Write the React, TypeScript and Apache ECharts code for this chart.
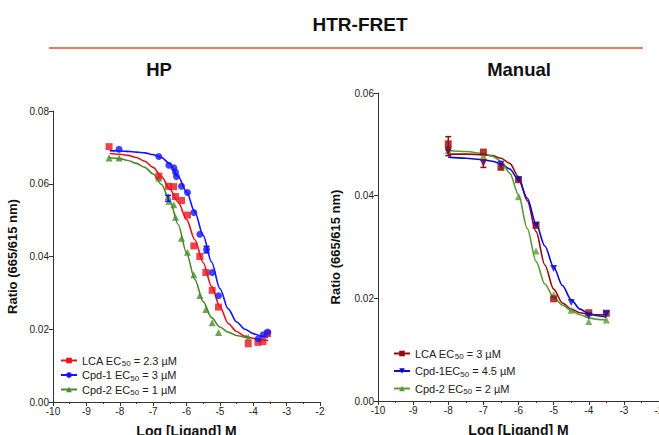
import React, { useEffect, useRef } from 'react';
import * as echarts from 'echarts';

// ---------- HP panel (points) ----------
const lcaHpX = [-8.32, -6.83, -6.54, -6.38, -6.33, -6.15, -5.97, -5.78, -5.6, -5.42, -5.23, -5.04, -4.15, -3.86, -3.71, -3.57];
const lcaHpY = [0.0702, 0.0621, 0.0593, 0.0592, 0.0565, 0.0554, 0.0514, 0.0429, 0.04, 0.0356, 0.0307, 0.0261, 0.016, 0.0164, 0.0166, 0.0188];
const cpd1HpX = [-8.02, -6.83, -6.53, -6.38, -6.33, -6.3, -6.15, -5.97, -5.78, -5.6, -5.4, -5.23, -5.04, -3.85, -3.7, -3.57];
const cpd1HpY = [0.0695, 0.0675, 0.0651, 0.0644, 0.0632, 0.062, 0.0593, 0.0576, 0.0521, 0.0461, 0.0419, 0.0356, 0.0292, 0.0174, 0.0185, 0.0192];
const cpd2HpX = [-8.32, -8.02, -6.83, -6.55, -6.53, -6.38, -6.33, -6.15, -5.97, -5.78, -5.6, -5.42, -5.23, -5.04, -4.15];
const cpd2HpY = [0.0671, 0.0671, 0.0616, 0.0565, 0.0552, 0.0542, 0.0508, 0.045, 0.0412, 0.035, 0.0293, 0.0254, 0.0218, 0.0191, 0.0177];

// ---------- HP panel (fitted curves) ----------
const lcaHpFitX = [-8.3, -8, -7.75, -7.5, -7.25, -7, -6.75, -6.5, -6.25, -6, -5.75, -5.5, -5.25, -5, -4.75, -4.5, -4.25, -4, -3.75, -3.55];
const lcaHpFitY = [0.0683, 0.0681, 0.0678, 0.0672, 0.0662, 0.0645, 0.062, 0.0585, 0.055, 0.0502, 0.0446, 0.0383, 0.0318, 0.0262, 0.0216, 0.0194, 0.0181, 0.0175, 0.0171, 0.0169];
const cpd1HpFitX = [-8.3, -8, -7.75, -7.5, -7.25, -7, -6.75, -6.5, -6.25, -6, -5.75, -5.5, -5.25, -5, -4.75, -4.5, -4.25, -4, -3.75, -3.55];
const cpd1HpFitY = [0.0691, 0.069, 0.0689, 0.0687, 0.0685, 0.068, 0.0672, 0.0655, 0.062, 0.0578, 0.0522, 0.0458, 0.0385, 0.0312, 0.0256, 0.022, 0.02, 0.0188, 0.0181, 0.0178];
const cpd2HpFitX = [-8.35, -8, -7.75, -7.5, -7.25, -7, -6.75, -6.5, -6.25, -6, -5.75, -5.5, -5.25, -5, -4.75, -4.5, -4.25, -4.1];
const cpd2HpFitY = [0.0673, 0.0669, 0.0664, 0.0656, 0.0645, 0.0627, 0.0598, 0.0553, 0.0488, 0.041, 0.0337, 0.0276, 0.0232, 0.0206, 0.0192, 0.0183, 0.0178, 0.0176];

// ---------- Manual panel (points) ----------
const lcaManX = [-8, -7, -6.5, -6, -5.5, -5, -4, -3.5];
const lcaManY = [0.0501, 0.0485, 0.0456, 0.0431, 0.0342, 0.0199, 0.0172, 0.0171];
const cpd1ManX = [-8, -7, -6.5, -6, -5.5, -5, -4.5, -4, -3.5];
const cpd1ManY = [0.0486, 0.0463, 0.0461, 0.0431, 0.0343, 0.0258, 0.0192, 0.0166, 0.017];
const cpd2ManX = [-8, -7, -6.5, -6, -5.5, -5, -4.5, -4, -3.5];
const cpd2ManY = [0.0488, 0.0478, 0.0455, 0.0398, 0.0292, 0.0207, 0.0177, 0.0155, 0.0158];

// ---------- Manual panel (fitted curves) ----------
const lcaManFitX = [-8, -7.5, -7, -6.75, -6.5, -6.25, -6, -5.75, -5.5, -5.25, -5, -4.75, -4.5, -4.25, -4, -3.75, -3.5];
const lcaManFitY = [0.0481, 0.0481, 0.048, 0.0478, 0.0473, 0.0463, 0.0437, 0.039, 0.033, 0.0265, 0.0218, 0.0191, 0.0179, 0.0172, 0.0169, 0.0168, 0.0168];
const cpd1ManFitX = [-8, -7.5, -7, -6.75, -6.5, -6.25, -6, -5.75, -5.5, -5.25, -5, -4.75, -4.5, -4.25, -4, -3.75, -3.5];
const cpd1ManFitY = [0.0475, 0.0473, 0.047, 0.0467, 0.0462, 0.0452, 0.0431, 0.0395, 0.0345, 0.0302, 0.0261, 0.0225, 0.0197, 0.0179, 0.017, 0.0166, 0.0163];
const cpd2ManFitX = [-8, -7.5, -7, -6.75, -6.5, -6.25, -6, -5.75, -5.5, -5.25, -5, -4.75, -4.5, -4.25, -4, -3.75, -3.5];
const cpd2ManFitY = [0.0488, 0.0486, 0.0482, 0.0477, 0.0467, 0.0444, 0.0402, 0.0336, 0.0272, 0.0228, 0.0202, 0.0187, 0.0176, 0.0168, 0.0162, 0.0159, 0.0158];

// ---------- error bars ----------
const errHpX = [-5.4, -6.55];
const errHpLo = [0.041, 0.0552];
const errHpHi = [0.0428, 0.0568];
const errManX = [-8, -8, -7];
const errManLo = [0.0489, 0.0478, 0.0455];
const errManHi = [0.0515, 0.0494, 0.047];

// ---------- legend names ----------
const hpNames = ['LCA EC50 = 2.3 µM', 'Cpd-1 EC50 = 3 µM', 'Cpd-2 EC50 = 1 µM'];
const manNames = ['LCA EC50 = 3 µM', 'Cpd-1EC50 = 4.5 µM', 'Cpd-2 EC50 = 2 µM'];

const xMin = -10;
const xMax = -2;
const xInterval = 1;
const yHpMax = 0.08;
const yManMax = 0.06;
const yInterval = 0.02;

const FONT = '"Liberation Sans", Arial, Helvetica, sans-serif';

const zip = (xs: number[], ys: number[]) => xs.map((x, i) => [x, ys[i]]);

export default function App() {
  const ref = useRef<HTMLDivElement>(null);
  useEffect(() => {
    if (!ref.current) return;
    const chart = echarts.init(ref.current, undefined, { renderer: 'svg' });

    const axisLine = { show: true, lineStyle: { color: '#333', width: 1 } };
    const mkX = (gridIndex: number) => ({
      type: 'value' as const,
      gridIndex,
      min: xMin,
      max: xMax,
      interval: xInterval,
      axisLine,
      axisTick: { show: true, length: 4, lineStyle: { color: '#333' } },
      minorTick: { show: true, splitNumber: 2, length: 2, lineStyle: { color: '#333' } },
      splitLine: { show: false },
      axisLabel: { color: '#222', fontSize: 10, fontFamily: FONT, margin: 4 },
      name: 'Log [Ligand] M',
      nameLocation: 'middle' as const,
      nameGap: 22,
      nameTextStyle: { fontFamily: FONT, fontSize: 14, fontWeight: 'bold', color: '#111' },
    });
    const mkY = (gridIndex: number, max: number, gap: number) => ({
      type: 'value' as const,
      gridIndex,
      min: 0,
      max,
      interval: yInterval,
      axisLine,
      axisTick: { show: true, length: 4, lineStyle: { color: '#333' } },
      splitLine: { show: false },
      axisLabel: {
        color: '#222',
        fontSize: 10,
        fontFamily: FONT,
        margin: 4,
        formatter: (v: number) => v.toFixed(2),
      },
      name: 'Ratio (665/615 nm)',
      nameLocation: 'middle' as const,
      nameGap: gap,
      nameTextStyle: { fontFamily: FONT, fontSize: 13, fontWeight: 'bold', color: '#111' },
    });

    const fit = (name: string, idx: number, xs: number[], ys: number[], color: string, symbol: string, rotate = 0) => ({
      type: 'line' as const,
      name,
      xAxisIndex: idx,
      yAxisIndex: idx,
      data: zip(xs, ys),
      smooth: 0.3,
      smoothMonotone: 'x' as const,
      showSymbol: false,
      symbol,
      symbolSize: 7,
      symbolRotate: rotate,
      lineStyle: { color, width: 1.6 },
      itemStyle: { color },
      z: 2,
    });
    const pts = (name: string, idx: number, xs: number[], ys: number[], color: string, symbol: string, size: number, rotate = 0) => ({
      type: 'scatter' as const,
      name,
      xAxisIndex: idx,
      yAxisIndex: idx,
      data: zip(xs, ys),
      symbol,
      symbolSize: size,
      symbolRotate: rotate,
      itemStyle: { color },
      z: 3,
    });
    const err = (idx: number, xs: number[], lo: number[], hi: number[], color: string) => ({
      type: 'custom' as const,
      xAxisIndex: idx,
      yAxisIndex: idx,
      data: xs.map((x, i) => [x, lo[i], hi[i]]),
      z: 4,
      renderItem: (params: any, api: any) => {
        const a = api.coord([api.value(0), api.value(1)]);
        const b = api.coord([api.value(0), api.value(2)]);
        const w = 3;
        return {
          type: 'group',
          children: [
            { type: 'line', shape: { x1: a[0], y1: a[1], x2: b[0], y2: b[1] }, style: { stroke: color, lineWidth: 1.5 } },
            { type: 'line', shape: { x1: b[0] - w, y1: b[1], x2: b[0] + w, y2: b[1] }, style: { stroke: color, lineWidth: 1.5 } },
            { type: 'line', shape: { x1: a[0] - w, y1: a[1], x2: a[0] + w, y2: a[1] }, style: { stroke: color, lineWidth: 1.5 } },
          ],
        };
      },
    });

    const RED = '#e8141c';
    const BLUE = '#1414ff';
    const GREEN = '#4b8b2b';
    const DRED = '#960a0a';
    const DBLUE = '#0a0ad0';
    const MGREEN = '#5a9a36';

    const legendText = {
      fontFamily: FONT,
      fontSize: 11,
      color: '#222',
      rich: {
        sub: { fontFamily: FONT, fontSize: 8, color: '#222', padding: [6, 0, 0, 0] },
      },
    };
    const fmt = (name: string) => name.replace('EC50', 'EC{sub|50}');

    chart.setOption({
      animation: false,
      backgroundColor: '#ffffff',
      grid: [
        { left: 53, top: 111, width: 267, height: 291, outerBoundsMode: 'none', containLabel: false },
        { left: 378, top: 93, width: 281, height: 308, outerBoundsMode: 'none', containLabel: false },
      ],
      xAxis: [mkX(0), mkX(1)],
      yAxis: [mkY(0, yHpMax, 34), mkY(1, yManMax, 36)],
      legend: [
        {
          data: hpNames,
          orient: 'vertical',
          left: 55,
          top: 350,
          itemWidth: 16,
          itemHeight: 7,
          itemGap: 2,
          textStyle: legendText,
          formatter: fmt,
          selectedMode: false,
        },
        {
          data: manNames,
          orient: 'vertical',
          left: 388,
          top: 343,
          itemWidth: 16,
          itemHeight: 7,
          itemGap: 5,
          textStyle: legendText,
          formatter: fmt,
          selectedMode: false,
        },
      ],
      graphic: [
        {
          type: 'text',
          x: 360,
          y: 24,
          style: { text: 'HTR-FRET', font: `bold 19px ${FONT}`, fill: '#111', align: 'center', verticalAlign: 'middle' },
        },
        {
          type: 'line',
          shape: { x1: 49, y1: 48, x2: 643, y2: 48 },
          style: { stroke: '#f04a2a', lineWidth: 1.3 },
        },
        {
          type: 'text',
          x: 159,
          y: 69,
          style: { text: 'HP', font: `bold 18.5px ${FONT}`, fill: '#111', align: 'center', verticalAlign: 'middle' },
        },
        {
          type: 'text',
          x: 519,
          y: 69,
          style: { text: 'Manual', font: `bold 18.5px ${FONT}`, fill: '#111', align: 'center', verticalAlign: 'middle' },
        },
      ],
      series: [
        fit(hpNames[0], 0, lcaHpFitX, lcaHpFitY, RED, 'rect'),
        fit(hpNames[1], 0, cpd1HpFitX, cpd1HpFitY, BLUE, 'circle'),
        fit(hpNames[2], 0, cpd2HpFitX, cpd2HpFitY, GREEN, 'triangle'),
        pts('cpd2HpPts', 0, cpd2HpX, cpd2HpY, GREEN, 'triangle', 7),
        pts('lcaHpPts', 0, lcaHpX, lcaHpY, RED, 'rect', 7),
        pts('cpd1HpPts', 0, cpd1HpX, cpd1HpY, BLUE, 'circle', 7),
        err(0, errHpX, errHpLo, errHpHi, BLUE),
        fit(manNames[0], 1, lcaManFitX, lcaManFitY, DRED, 'rect'),
        fit(manNames[1], 1, cpd1ManFitX, cpd1ManFitY, DBLUE, 'triangle', 180),
        fit(manNames[2], 1, cpd2ManFitX, cpd2ManFitY, MGREEN, 'triangle'),
        pts('cpd2ManPts', 1, cpd2ManX, cpd2ManY, MGREEN, 'triangle', 7),
        pts('lcaManPts', 1, lcaManX, lcaManY, DRED, 'rect', 7),
        pts('cpd1ManPts', 1, cpd1ManX, cpd1ManY, DBLUE, 'triangle', 7, 180),
        err(1, errManX, errManLo, errManHi, DRED),
      ],
    });
    return () => chart.dispose();
  }, []);
  return <div ref={ref} style={{ position: 'fixed', left: 0, top: 0, width: 659, height: 435 }} />;
}
